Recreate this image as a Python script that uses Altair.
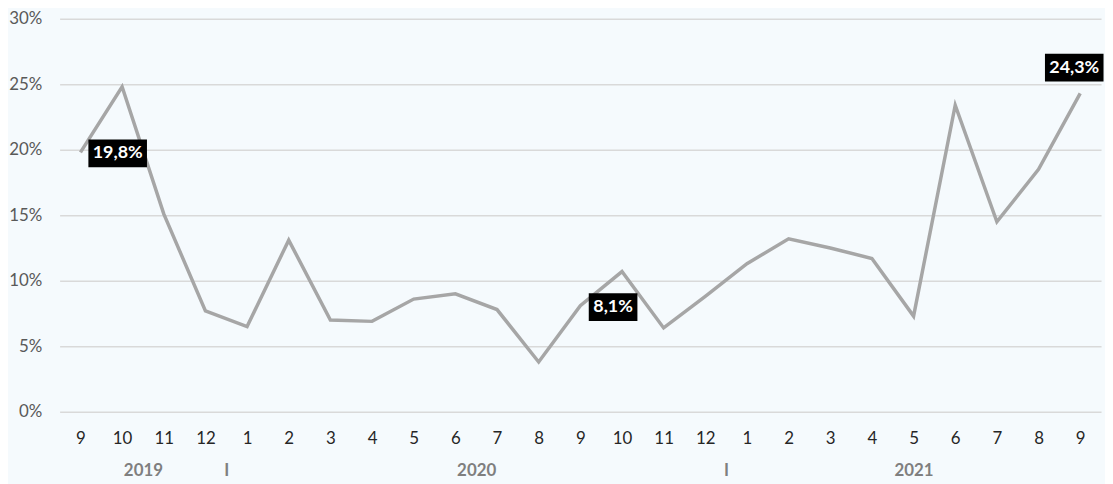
import json
import altair as alt
import pandas as pd

# ---- data ----
month_labels = ["9", "10", "11", "12",
                "1", "2", "3", "4", "5", "6", "7", "8", "9", "10", "11", "12",
                "1", "2", "3", "4", "5", "6", "7", "8", "9"]
year_of_point = [2019] * 4 + [2020] * 12 + [2021] * 9
share = [19.8, 24.8, 15.1, 7.7,
         6.5, 13.1, 7.0, 6.9, 8.6, 9.0, 7.8, 3.8, 8.1, 10.7, 6.4, 8.8,
         11.3, 13.2, 12.5, 11.7, 7.3, 23.4, 14.5, 18.5, 24.3]
labelled_points = [0, 12, 24]
y_ticks = [0, 5, 10, 15, 20, 25, 30]

FONT = "Lato"
BG = "#f5fafd"

idx = list(range(len(share)))
df = pd.DataFrame({"i": idx, "v": share, "year": year_of_point})

# year label positions (middle of each year's span) and separators between years
years = sorted(set(year_of_point))
year_pos, year_txt = [], []
for k, y in enumerate(years):
    ii = [i for i in idx if year_of_point[i] == y]
    year_pos.append((min(ii) + max(ii)) / 2)
    year_txt.append(str(y))
    if k < len(years) - 1:
        year_pos.append(max(ii) + 0.5)
        year_txt.append("I")
order = sorted(range(len(year_pos)), key=lambda j: year_pos[j])
year_pos = [year_pos[j] for j in order]
year_txt = [year_txt[j] for j in order]
ydf = pd.DataFrame({"p": year_pos})

xscale = alt.Scale(domain=[-0.5, len(share) - 0.5], nice=False, zero=False)
yscale = alt.Scale(domain=[0, 30], nice=False)

month_axis = alt.Axis(
    values=idx, labelExpr=json.dumps(month_labels) + "[datum.value]",
    grid=False, domain=False, ticks=False, tickSize=0, labelPadding=19,
    labelFont=FONT, labelFontSize=17, labelColor="#262626",
    labelFlush=False, labelOverlap=False, title=None, orient="bottom")

year_axis = alt.Axis(
    values=year_pos,
    labelExpr=json.dumps(year_txt) + "[indexof(" + json.dumps(year_pos) + ", datum.value)]",
    grid=False, domain=False, ticks=False, tickSize=0, labelPadding=51,
    labelFont=FONT, labelFontSize=17, labelFontWeight="bold", labelColor="#7f7f7f",
    labelFlush=False, labelOverlap=False, title=None, orient="bottom")

y_axis = alt.Axis(
    values=y_ticks, labelExpr="datum.value + '%'",
    grid=True, gridColor="#d9d9d9", gridWidth=1.5, domain=False, ticks=False, tickSize=0,
    labelPadding=18, labelFont=FONT, labelFontSize=17, labelColor="#595959", title=None)

line = alt.Chart(df).mark_line(color="#a6a6a6", strokeWidth=3.5).encode(
    x=alt.X("i:Q", scale=xscale, axis=month_axis),
    y=alt.Y("v:Q", scale=yscale, axis=y_axis),
)

year_layer = alt.Chart(ydf).mark_point(opacity=0).encode(
    x=alt.X("p:Q", scale=xscale, axis=year_axis),
)

# data labels: black boxes with white bold text (Excel style)
label_style = {0: (37.5, 1, 59), 12: (33, 1.5, 49), 24: (-6, -26, 59)}
label_layers = []
for i in labelled_points:
    dx, dy, w = label_style[i]
    h = 28
    r = h / w
    path = f"M-1,{-r:.4f}L1,{-r:.4f}L1,{r:.4f}L-1,{r:.4f}Z"
    ldf = pd.DataFrame({"i": [i], "v": [share[i]],
                        "t": [f"{share[i]:.1f}".replace(".", ",") + "%"]})
    box = alt.Chart(ldf).mark_point(
        shape=path, size=w * w, filled=True, color="black", opacity=1,
        strokeWidth=0, xOffset=dx, yOffset=dy,
    ).encode(x=alt.X("i:Q", scale=xscale, axis=None),
             y=alt.Y("v:Q", scale=yscale, axis=y_axis))
    txt = alt.Chart(ldf).mark_text(
        color="white", font=FONT, fontSize=18, fontWeight="bold",
        align="center", baseline="middle", dx=dx, dy=dy,
    ).encode(x=alt.X("i:Q", scale=xscale, axis=None),
             y=alt.Y("v:Q", scale=yscale, axis=y_axis),
             text="t:N")
    label_layers += [box, txt]

chart = alt.layer(line, year_layer, *label_layers).resolve_axis(
    x="independent"
).properties(
    width=1049, height=396,
    autosize=alt.AutoSizeParams(type="none"),
    padding={"left": 52, "top": 9, "right": 4, "bottom": 71},
    background=BG,
).configure_view(stroke=None)

chart.save("out.html", embed_options={"renderer": "svg", "actions": False})
